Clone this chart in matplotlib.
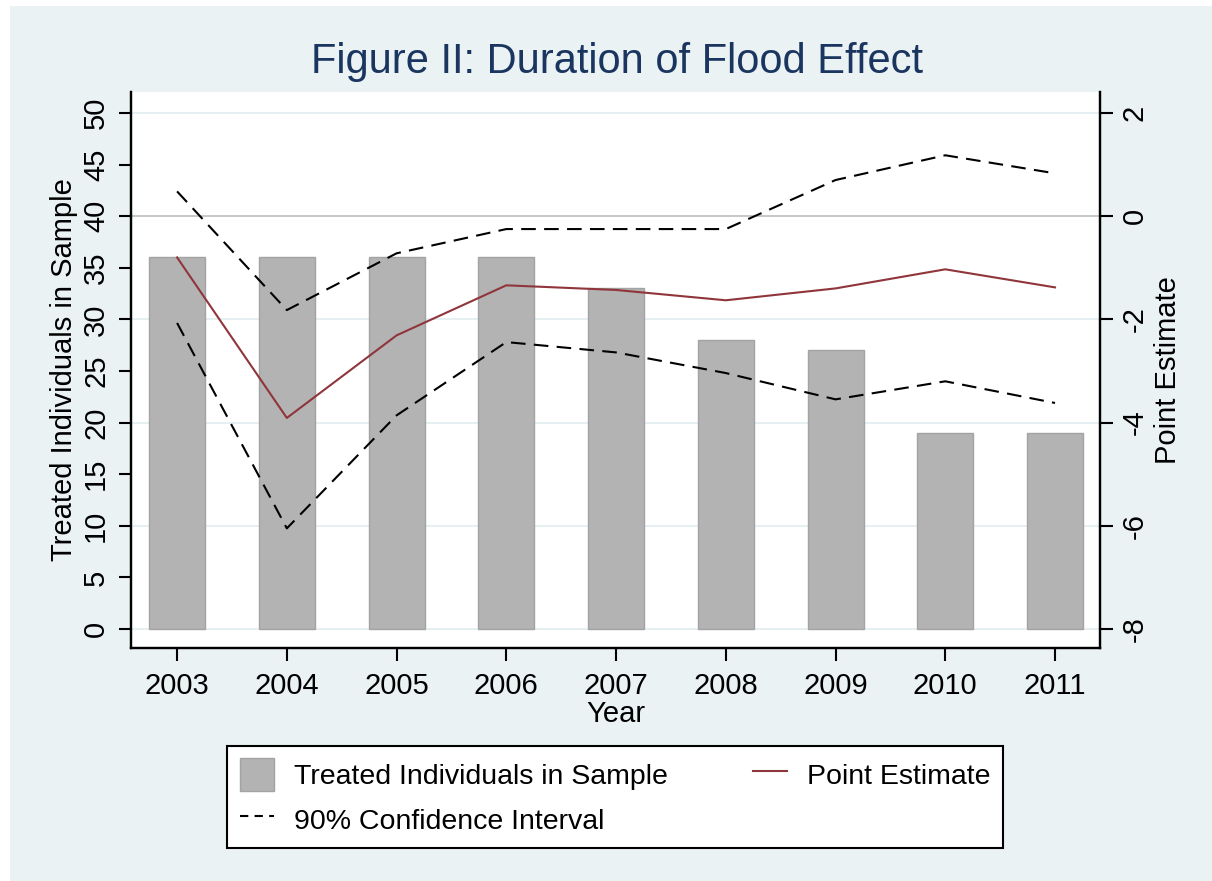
import matplotlib
matplotlib.use("Agg")
import matplotlib.pyplot as plt
from matplotlib.patches import Rectangle
from matplotlib.lines import Line2D

# data
years = [2003, 2004, 2005, 2006, 2007, 2008, 2009, 2010, 2011]
treated = [36, 36, 36, 36, 33, 28, 27, 19, 19]
point_est = [-0.80, -3.91, -2.31, -1.34, -1.43, -1.63, -1.40, -1.03, -1.38]
ci_upper = [0.48, -1.82, -0.72, -0.25, -0.25, -0.25, 0.70, 1.18, 0.83]
ci_lower = [-2.07, -6.05, -3.86, -2.44, -2.64, -3.04, -3.55, -3.20, -3.62]

left_ticks = list(range(0, 55, 5))
right_ticks = [2, 0, -2, -4, -6, -8]

bg = '#EAF2F3'
red = '#90353B'
navy = '#1A3560'
plt.rcParams['font.family'] = 'Liberation Sans'

W, H = 1212, 881
fig = plt.figure(figsize=(W / 100, H / 100), dpi=100, facecolor='white')
fig.patches.append(Rectangle((10 / W, 0), 1, 1 - 6 / H, transform=fig.transFigure,
                             facecolor=bg, edgecolor='none', zorder=-10))

ax = fig.add_axes([131 / W, 1 - 648 / H, (1100 - 131) / W, (648 - 92) / H])
ax.set_facecolor('white')
ax.set_xlim(2002.58, 2011.41)
ax.set_ylim(-1.84, 52.03)

# grid lines at the shared tick positions
for v in range(0, 60, 10):
    if v == 40:
        continue
    ax.axhline(v, color='#E4EEF0', lw=1.3, zorder=0)
ax.axhline(40, color='#C4C4C4', lw=1.3, zorder=1)

ax.bar(years, treated, width=0.51, color='#B3B3B3', edgecolor='#A3A3A3', lw=1, zorder=2)

ax2 = ax.twinx()
ax2.set_ylim(-8.368, 2.406)
ax2.plot(years, point_est, color=red, lw=1.5, zorder=3)
ax2.plot(years, ci_upper, color='black', lw=1.5, dashes=(7, 4), zorder=3)
ax2.plot(years, ci_lower, color='black', lw=1.5, dashes=(7, 4), zorder=3)

for a in (ax, ax2):
    a.spines['top'].set_visible(False)
    for s in ('left', 'right', 'bottom'):
        a.spines[s].set_linewidth(1.6)
        a.spines[s].set_color('black')

ax.set_xticks(years)
ax.set_xticklabels([str(y) for y in years], fontsize=21)
ax.set_yticks(left_ticks)
ax.set_yticklabels([str(t) for t in left_ticks], fontsize=21, rotation=90, va='center')
ax2.set_yticks(right_ticks)
ax2.set_yticklabels([str(t) for t in right_ticks], fontsize=21, rotation=90, va='center')
ax.tick_params(axis='x', length=9, width=1.5, pad=8)
ax.tick_params(axis='y', length=9, width=1.5, pad=6)
ax2.tick_params(axis='y', length=9, width=1.5, pad=6)

ax.set_xlabel('Year', fontsize=21, va='center')
ax.xaxis.set_label_coords(0.5, (648 - 714) / 556)
ax.set_ylabel('Treated Individuals in Sample', fontsize=21, labelpad=3)
ax2.set_ylabel('Point Estimate', fontsize=21, labelpad=4)

fig.text(617 / W, 1 - 62 / H, 'Figure II: Duration of Flood Effect', fontsize=30,
         color=navy, ha='center', va='center')

handles = [Rectangle((0, 0), 1, 1, facecolor='#B3B3B3', edgecolor='#A3A3A3'),
           Line2D([], [], color='black', lw=1.5, dashes=(4, 3)),
           Line2D([], [], color=red, lw=1.5)]
labels = ['Treated Individuals in Sample', '90% Confidence Interval', 'Point Estimate']
leg = fig.legend(handles, labels, ncol=2, fontsize=20.5, loc='center',
                 bbox_to_anchor=(615 / W, 1 - 797 / H), frameon=True, fancybox=False,
                 edgecolor='black', framealpha=1, handlelength=1.2, handleheight=1.4,
                 columnspacing=3.0, borderpad=0.45, labelspacing=0.4, handletextpad=0.7)
leg.get_frame().set_linewidth(1.5)

fig.savefig('out.png', dpi=100, facecolor=fig.get_facecolor())
